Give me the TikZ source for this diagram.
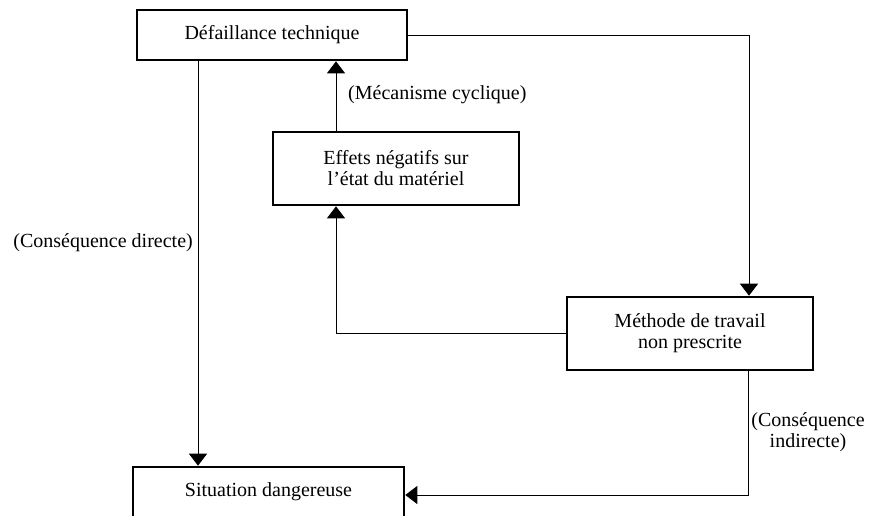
\documentclass[tikz,border=0pt]{standalone}
\usepackage{fontspec}
\setmainfont{Liberation Serif}
\usetikzlibrary{arrows.meta}
\begin{document}
\begin{tikzpicture}[x=1pt,y=-1pt,
  every node/.style={font=\fontsize{20}{21}\selectfont},
  box/.style={draw, line width=2.6pt, inner sep=0pt, align=center},
  conn/.style={line width=1pt, -{Triangle[width=18pt,length=12pt]}},
  lbl/.style={inner sep=0pt, align=center}]
\useasboundingbox (0,0) rectangle (875,515);
\node[box, minimum width=270pt, minimum height=50pt] (def) at (272,35) {Défaillance technique};
\node[box, minimum width=246pt, minimum height=73pt] (eff) at (396,168.5) {Effets négatifs sur\\l’état du matériel};
\node[box, minimum width=246pt, minimum height=73pt] (meth) at (690,333.5) {Méthode de travail\\non prescrite};
\node[box, minimum width=271pt, minimum height=50pt] (sit) at (268.5,492) {Situation dangereuse};
\coordinate (c1) at (749,36);
\coordinate (c2) at (198,0);
\coordinate (c3) at (336,0);
\coordinate (c5) at (748,495);
\draw[conn] (def.east) -| (meth.north -| c1);
\draw[conn] (def.south -| c2) -- (sit.north -| c2);
\draw[conn] (eff.north -| c3) -- (def.south -| c3);
\draw[conn] (meth.west) -| (eff.south -| c3);
\draw[conn] (meth.south -| c5) |- (sit.east |- c5);
\node[lbl, anchor=west] (l1) at (348,95) {(Mécanisme cyclique)};
\node[lbl, anchor=east] (l2) at (193,243) {(Conséquence directe)};
\node[lbl] (l3) at (808,432) {(Conséquence\\indirecte)};
\end{tikzpicture}
\end{document}
